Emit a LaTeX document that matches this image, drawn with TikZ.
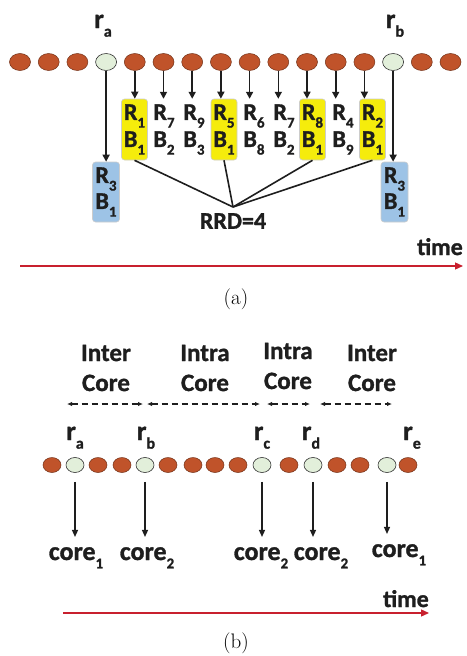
\documentclass[tikz,border=0pt]{standalone}
\usepackage{fontspec}
\newfontfamily\carl{Carlito}[BoldFeatures={FakeBold=1.2}]
\usetikzlibrary{arrows.meta,shapes.geometric}
\definecolor{brownc}{HTML}{C0532A}
\definecolor{lightc}{HTML}{E2EFDA}
\definecolor{yelc}{HTML}{F5EC0C}
\definecolor{bluec}{HTML}{9DC3E6}
\definecolor{redc}{HTML}{C8202E}
\definecolor{txtc}{HTML}{1E1E1E}
\newcommand{\subs}[1]{\raisebox{-0.32em}{\fontsize{15}{15}\selectfont #1}}
\newcommand{\subsb}[1]{\raisebox{-0.32em}{\fontsize{16}{16}\selectfont #1}}
\tikzset{
  dotb/.style={ellipse,draw=brownc!60!black,line width=0.5pt,fill=brownc,minimum width=21pt,minimum height=17pt,inner sep=0pt},
  dotl/.style={ellipse,draw=black!80,line width=0.6pt,fill=lightc,minimum width=21pt,minimum height=17pt,inner sep=0pt},
  sdotb/.style={dotb,minimum width=18pt,minimum height=15pt},
  sdotl/.style={dotl,minimum width=18pt,minimum height=15pt},
  lab/.style={font=\carl\bfseries\fontsize{24}{27}\selectfont,text=txtc,inner sep=0pt},
  colbox/.style={lab,align=center,minimum width=26pt,minimum height=61pt,rounded corners=3pt},
  yel/.style={colbox,fill=yelc,draw=black!20,line width=0.6pt},
  plain/.style={colbox},
  blu/.style={lab,align=center,minimum width=27pt,minimum height=60pt,rounded corners=3pt,fill=bluec,draw=black!20,line width=0.6pt,font=\carl\bfseries\fontsize{24}{24}\selectfont},
  rlab/.style={font=\carl\bfseries\fontsize{27}{27}\selectfont,text=txtc,inner sep=0pt,anchor=base},
  arr/.style={-{Triangle[length=7pt,width=7pt]},line width=1.6pt,draw=txtc},
  conn/.style={line width=1.6pt,draw=txtc},
  timearr/.style={-{Triangle[length=8pt,width=7pt]},line width=1.3pt,draw=redc},
  dash2/.style={{Latex[length=5pt,width=4.5pt]}-{Latex[length=5pt,width=4.5pt]},dash pattern=on 6pt off 4pt,line width=1.2pt,draw=txtc},
  barr/.style={-{Triangle[length=7pt,width=6pt]},line width=1.3pt,draw=txtc},
  grp/.style={font=\carl\bfseries\fontsize{25}{30}\selectfont,text=txtc,align=center,inner sep=0pt},
  core/.style={font=\carl\bfseries\fontsize{26}{26}\selectfont,text=txtc,inner sep=0pt,anchor=base},
  subcap/.style={font=\fontsize{21}{21}\selectfont,inner sep=0pt}
}
\begin{document}
\begin{tikzpicture}[x=1pt,y=-1pt]
\useasboundingbox (0,0) rectangle (466,656);
% ---------------- (a) ----------------
\foreach \i in {0,1,2,4,5,6,7,8,9,10,11,12,14,15}
  \node[dotb] (a\i) at ({20+28.7*\i},62) {};
\foreach \i in {3,13}
  \node[dotl] (a\i) at ({20+28.7*\i},62) {};
\node[rlab] (ra) at (103,28) {r\subsb{a}};
\node[rlab] (rb) at (395,28) {r\subsb{b}};
% columns
\node[yel]   (c4)  at (134.5,129.5) {R\subs{1}\\B\subs{1}};
\node[plain] (c5)  at (164,129.5)   {R\subs{7}\\B\subs{2}};
\node[plain] (c6)  at (194,129.5)   {R\subs{9}\\B\subs{3}};
\node[yel]   (c7)  at (224,129.5)   {R\subs{5}\\B\subs{1}};
\node[plain] (c8)  at (254,129.5)   {R\subs{6}\\B\subs{8}};
\node[plain] (c9)  at (284,129.5)   {R\subs{7}\\B\subs{2}};
\node[yel]   (c10) at (312.5,129.5) {R\subs{8}\\B\subs{1}};
\node[plain] (c11) at (343,129.5)   {R\subs{4}\\B\subs{9}};
\node[yel]   (c12) at (372.5,129.5) {R\subs{2}\\B\subs{1}};
\foreach \i in {4,...,12}
  \draw[arr] (a\i.south) -- (a\i.south |- c\i.north);
% blue boxes
\node[blu] (bl) at (106,192) {R\subs{3}\\[2pt]B\subs{1}};
\node[blu] (br) at (394.5,192) {R\subs{3}\\[2pt]B\subs{1}};
\draw[arr] (a3.south) -- (a3.south |- bl.north);
\draw[arr] (a13.south) -- (a13.south |- br.north);
% RRD
\node[lab] (rrd) at (233,221) {RRD=4};
\coordinate (rrdtop) at (233,207);
\foreach \i in {4,7,10,12}
  \draw[conn] (c\i.south) -- (rrdtop);
% time axis (a)
\coordinate (ta0) at (20,266);
\coordinate (ta1) at (463,266);
\draw[timearr] (ta0) -- (ta1);
\node[lab,anchor=base east] (timea) at (463,255) {time};
\node[subcap] (capa) at (236,299) {(a)};
% ---------------- (b) ----------------
\node[grp] (g1) at (106,368) {Inter\\Core};
\node[grp] (g2) at (205,368) {Intra\\Core};
\node[grp] (g3) at (288,366) {Intra\\Core};
\node[grp] (g4) at (372,368) {Inter\\Core};
\coordinate (d0) at (67,404);
\coordinate (d1) at (143,404);
\coordinate (d1b) at (147,404);
\coordinate (d2) at (260,404);
\coordinate (d2b) at (267,404);
\coordinate (d3) at (310,404);
\coordinate (d3b) at (320,404);
\coordinate (d4) at (392,404);
\draw[dash2] (d0) -- (d1);
\draw[dash2] (d1b) -- (d2);
\draw[dash2] (d2b) -- (d3);
\draw[dash2] (d3b) -- (d4);
\node[rlab] (rba) at (75,440) {r\subsb{a}};
\node[rlab] (rbb) at (146,440) {r\subsb{b}};
\node[rlab] (rbc) at (262,440) {r\subsb{c}};
\node[rlab] (rbd) at (311,440) {r\subsb{d}};
\node[rlab] (rbe) at (412,440) {r\subsb{e}};
\foreach \i/\x in {0/52,2/98,3/122,5/168,6/193,7/215,8/238,10/289,12/337,13/360,15/408}
  \node[sdotb] (b\i) at (\x,465) {};
\foreach \i/\x in {1/75,4/145,9/262,11/313,14/387}
  \node[sdotl] (b\i) at (\x,465) {};
\node[core] (k1) at (76,560) {core\subs{1}};
\node[core] (k2) at (147,560) {core\subs{2}};
\node[core] (k3) at (261,560) {core\subs{2}};
\node[core] (k4) at (321,560) {core\subs{2}};
\node[core] (k5) at (399,557) {core\subs{1}};
\foreach \i/\k in {1/k1,4/k2,9/k3,11/k4,14/k5}
  \draw[barr,shorten <=9pt,shorten >=10pt] (b\i.south) -- (b\i.south |- \k.north);
% time axis (b)
\coordinate (tb0) at (63,613);
\coordinate (tb1) at (429,613);
\draw[timearr] (tb0) -- (tb1);
\node[lab,anchor=base east] (timeb) at (429,607) {time};
\node[subcap] (capb) at (236,643) {(b)};
\end{tikzpicture}
\end{document}
